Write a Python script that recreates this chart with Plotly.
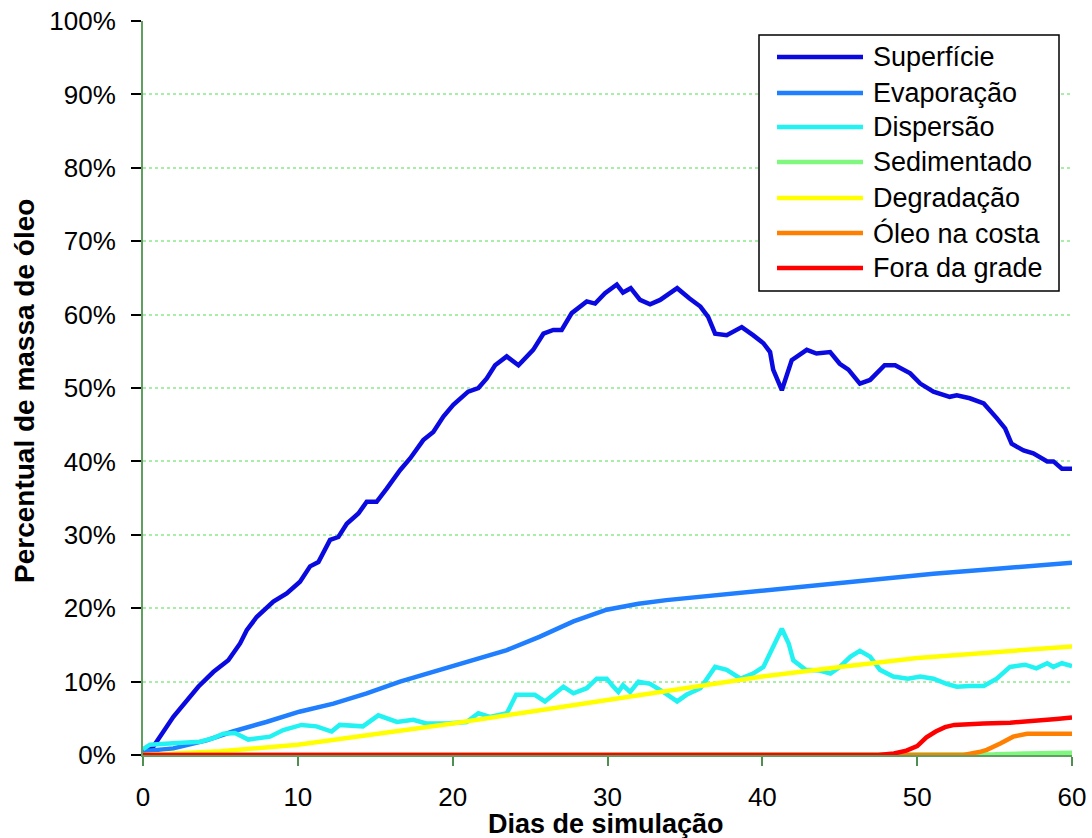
import plotly.graph_objects as go

# ---------------- data ----------------
names = ["Superfície", "Evaporação", "Dispersão", "Sedimentado",
         "Degradação", "Óleo na costa", "Fora da grade"]
colors = ["#0a0ae0", "#1f7fff", "#22f2f2", "#80f880",
          "#ffff00", "#ff8000", "#ff0000"]

days_sup = [0, 0.65, 1.96, 3.57, 4.54, 5.51, 6.27, 6.7, 7.34, 8.42, 9.28, 10.14,
            10.79, 11.33, 12.08, 12.62, 13.16, 13.91, 14.45, 15.09, 15.74, 16.6,
            17.25, 18.1, 18.75, 19.4, 20.04, 21.0, 21.66, 22.2, 22.74, 23.49,
            24.25, 24.79, 25.2, 25.86, 26.5, 27.04, 27.69, 28.66, 29.2, 29.84,
            30.6, 31.0, 31.5, 32.1, 32.75, 33.4, 34.5, 35.3, 36.0, 36.5, 36.95,
            37.7, 38.67, 39.4, 40.07, 40.5, 40.7, 41.26, 41.9, 42.87, 43.5,
            44.38, 45.0, 45.56, 46.3, 46.96, 47.9, 48.58, 49.55, 50.2, 51.05,
            52.1, 52.56, 53.4, 54.3, 55.14, 55.68, 56.1, 56.87, 57.5, 58.4,
            58.8, 59.35, 60.0]
sup = [0.5, 1.1, 5.2, 9.3, 11.3, 12.9, 15.2, 17.0, 18.8, 20.9, 22.0, 23.6,
       25.7, 26.3, 29.3, 29.7, 31.5, 32.9, 34.5, 34.5, 36.3, 38.8,
       40.4, 42.9, 44.0, 46.1, 47.7, 49.5, 50.0, 51.3, 53.1, 54.3,
       53.1, 54.3, 55.2, 57.4, 57.9, 57.9, 60.2, 61.8, 61.5, 62.9,
       64.1, 63.0, 63.6, 62.0, 61.4, 62.0, 63.6, 62.2, 61.1, 59.7, 57.4,
       57.2, 58.3, 57.2, 56.1, 54.9, 52.5, 49.7, 53.8, 55.2, 54.7,
       54.9, 53.3, 52.5, 50.6, 51.1, 53.1, 53.1, 52.0, 50.6, 49.5,
       48.8, 49.0, 48.6, 47.9, 45.9, 44.5, 42.4, 41.5, 41.1, 40.0,
       40.0, 39.0, 39.0]

days_evap = [0, 1.96, 4.1, 5.8, 7.96, 10.1, 12.3, 14.45, 16.6, 18.75, 20.9,
             23.5, 25.6, 27.8, 29.95, 32.0, 33.8, 38.1, 42.4, 46.75, 51.05,
             55.36, 60.0]
evap = [0.5, 0.9, 2.0, 3.2, 4.5, 5.9, 7.0, 8.4, 10.0, 11.3, 12.7,
        14.3, 16.1, 18.2, 19.8, 20.6, 21.1, 22.0, 22.9, 23.8, 24.7,
        25.4, 26.2]

days_disp = [0, 0.45, 1.96, 3.68, 4.54, 5.19, 5.94, 6.8, 8.2, 9.06, 10.24,
             11.2, 12.18, 12.7, 14.2, 15.2, 16.4, 17.45, 18.3, 19.6, 20.9,
             21.66, 22.4, 23.5, 24.1, 25.3, 25.96, 27.15, 27.8, 28.66, 29.3,
             29.95, 30.3, 30.7, 31.0, 31.46, 32.0, 32.75, 33.6, 34.5, 35.1,
             36.0, 36.95, 37.7, 38.6, 39.4, 40.07, 40.6, 40.9, 41.26, 41.7,
             42.0, 42.8, 43.7, 44.4, 45.0, 45.7, 46.3, 46.96, 47.6, 48.45,
             49.4, 50.2, 51.05, 51.9, 52.56, 53.4, 54.3, 55.14, 56.0, 56.97,
             57.7, 58.4, 58.8, 59.35, 60.0]
disp = [0.8, 1.4, 1.6, 1.8, 2.3, 2.9, 3.0, 2.1, 2.5, 3.4, 4.1,
        3.9, 3.2, 4.1, 3.9, 5.4, 4.5, 4.8, 4.3, 4.3, 4.5,
        5.7, 5.2, 5.7, 8.2, 8.2, 7.3, 9.3, 8.4, 9.1, 10.4,
        10.4, 9.5, 8.6, 9.5, 8.6, 10.0, 9.7, 8.6, 7.3, 8.2,
        9.1, 12.0, 11.6, 10.4, 11.1, 12.0, 14.3, 15.7, 17.2, 15.2,
        12.9, 11.6, 11.5, 11.1, 12.0, 13.4, 14.2, 13.4, 11.6, 10.7,
        10.4, 10.7, 10.4, 9.7, 9.3, 9.4, 9.4, 10.4, 12.0, 12.3,
        11.8, 12.5, 12.0, 12.5, 12.1]

days_sed = [0, 54.0, 55.0, 57.0, 60.0]
sed = [0.0, 0.0, 0.1, 0.2, 0.3]

days_deg = [0, 5, 10, 15, 20, 25, 30, 35, 40, 45, 50, 55, 60]
deg = [0.0, 0.5, 1.4, 2.8, 4.3, 5.9, 7.5, 9.1, 10.7, 12.0, 13.2, 14.0, 14.8]

days_costa = [0, 53.0, 54.0, 54.5, 55.4, 56.2, 57.1, 58.0, 60.0]
costa = [0.0, 0.0, 0.4, 0.7, 1.6, 2.5, 2.9, 2.9, 2.9]

days_fora = [0, 47.5, 48.5, 49.3, 50.0, 50.6, 51.2, 51.8, 52.4, 53.0, 54.3,
             56.0, 57.5, 59.0, 60.0]
fora = [0.0, 0.0, 0.2, 0.6, 1.2, 2.4, 3.2, 3.8, 4.1, 4.2, 4.3,
        4.4, 4.6, 4.9, 5.1]

y_ticks = [0, 10, 20, 30, 40, 50, 60, 70, 80, 90, 100]
y_tick_labels = [f"{v}%" for v in y_ticks]
x_ticks = [0, 10, 20, 30, 40, 50, 60]

series_x = [days_sup, days_evap, days_disp, days_sed, days_deg, days_costa, days_fora]
series_y = [sup, evap, disp, sed, deg, costa, fora]

# ---------------- figure ----------------
W, H = 1092, 838
L, R, T, B = 143, 20, 21, 83
fig = go.Figure()
for nm, c, xs, ys in zip(names, colors, series_x, series_y):
    fig.add_trace(go.Scatter(x=xs, y=ys, mode="lines", name=nm,
                             line=dict(color=c, width=4.5),
                             showlegend=False))

FONT = "Liberation Sans, Arial, sans-serif"
fig.update_layout(
    width=W, height=H, autosize=False,
    margin=dict(l=L, r=R, t=T, b=B, pad=0),
    paper_bgcolor="white", plot_bgcolor="white",
    font=dict(family=FONT, size=26, color="black"),
    xaxis=dict(range=[0, 60], tickvals=x_ticks, showgrid=False, zeroline=False,
               automargin=False,
               showline=True, linecolor="#5f9f5f", linewidth=2,
               ticks="outside", ticklen=9, tickwidth=2, tickcolor="#4f8f4f",
               ticklabelstandoff=9, tickfont=dict(size=26, color="black")),
    yaxis=dict(range=[0, 100], tickvals=y_ticks, ticktext=y_tick_labels,
               automargin=False,
               showgrid=True, gridcolor="#a8eea8", griddash="dot", gridwidth=1.5,
               zeroline=False, showline=True, linecolor="#5f9f5f", linewidth=2,
               ticks="outside", ticklen=10, tickwidth=2, tickcolor="black",
               ticklabelstandoff=10, tickfont=dict(size=26, color="black")),
)

def px_x(p):
    return (p - L) / (W - L - R)

def px_y(p):
    return (H - B - p) / (H - T - B)

# axis titles
fig.add_annotation(text="<b>Dias de simulação</b>", xref="paper", yref="paper",
                   x=px_x(606), y=px_y(824), showarrow=False,
                   font=dict(size=27, color="black", family=FONT),
                   xanchor="center", yanchor="middle")
fig.add_annotation(text="<b>Percentual de massa de óleo</b>", xref="paper", yref="paper",
                   x=px_x(24), y=px_y(391), showarrow=False, textangle=-90,
                   font=dict(size=28, color="black", family=FONT),
                   xanchor="center", yanchor="middle")

# legend (drawn as shapes + text)
fig.add_shape(type="rect", xref="paper", yref="paper",
              x0=px_x(759), x1=px_x(1059), y0=px_y(291), y1=px_y(35),
              line=dict(color="black", width=1.5), fillcolor="white", layer="above")
row_y = [57, 93, 127, 162, 198, 233, 268]
for nm, c, ry in zip(names, colors, row_y):
    fig.add_shape(type="line", xref="paper", yref="paper",
                  x0=px_x(777), x1=px_x(863), y0=px_y(ry), y1=px_y(ry),
                  line=dict(color=c, width=4.5), layer="above")
    fig.add_annotation(text=nm, xref="paper", yref="paper",
                       x=px_x(871), y=px_y(ry), showarrow=False,
                       xanchor="left", yanchor="middle",
                       font=dict(size=27, color="black", family=FONT))

fig.write_html("out.html", config={"displayModeBar": False},
               post_script="document.body.style.margin='0';document.body.style.overflow='hidden';")
